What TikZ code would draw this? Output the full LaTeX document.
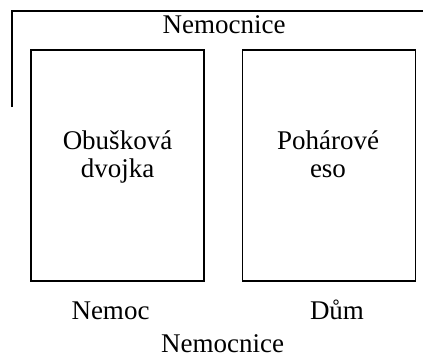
\documentclass[tikz,border=0pt]{standalone}
\usepackage{fontspec}
\setmainfont{Liberation Serif}
\usepackage{tikz}
\usetikzlibrary{positioning}

\tikzset{
    card/.style={draw, line width=1.6pt, minimum width=173pt, minimum height=231pt, inner sep=0pt},
    label/.style={anchor=base, inner sep=0pt, align=center}
}

\begin{document}
\begin{tikzpicture}[x=1pt, y=-1pt, every node/.style={font=\fontsize{27}{28}\selectfont}]
        \useasboundingbox (0,0) rectangle (423,356);

        % outer frame
        \draw[line width=1.6pt] (12,107) -- (12,11) -- (424,11);
        \node[label] (hospitaltop) at (224,34) {Nemocnice};

        % cards
        \node[card] (club) at (117.5,165.5) {};
        \node[label] (clubtext) at (117.5,177.5) {Obušková\\dvojka};
        \node[card] (cup) at (329,165.5) {};
        \node[label] (cuptext) at (328,177.5) {Pohárové\\eso};

        % captions
        \node[label] (illness) at (110.5,319) {Nemoc};
        \node[label] (house) at (337,319) {Dům};
        \node[label] (hospital) at (222.5,352.5) {Nemocnice};
    \end{tikzpicture}
\end{document}
